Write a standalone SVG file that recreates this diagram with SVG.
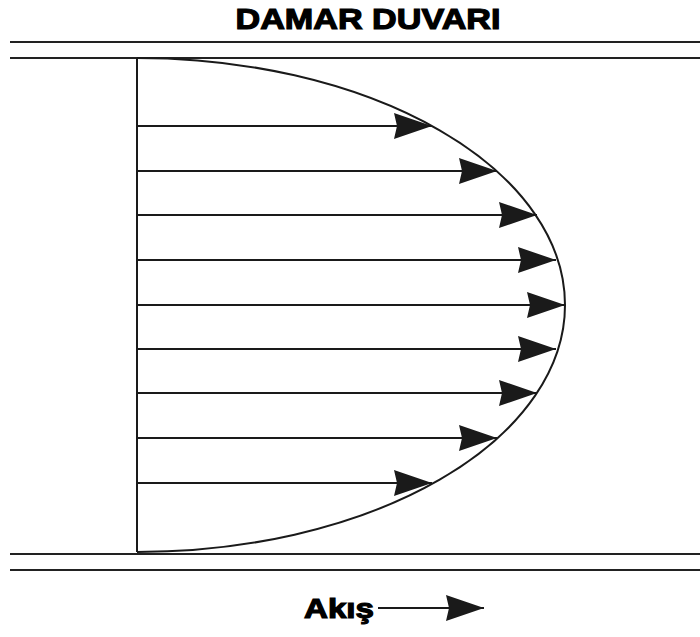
<svg xmlns="http://www.w3.org/2000/svg" width="700" height="637" viewBox="0 0 700 637">
<defs>
<style>
.wall{stroke:#222;stroke-width:2;fill:none}
.ln{stroke:#1a1a1a;stroke-width:2;fill:none}
.t{font-family:"Liberation Sans",Arial,sans-serif;font-weight:bold;fill:#000;stroke:#000;stroke-width:1.2}
</style>
<marker id="ah" viewBox="0 0 38 26" refX="38" refY="13" markerWidth="38" markerHeight="26" markerUnits="userSpaceOnUse" orient="auto">
<path d="M0,0 L38,13 L0,26 L3,13 Z" fill="#1a1a1a"/>
</marker>
</defs>
<rect width="700" height="637" fill="#fff"/>
<g id="title"><text class="t" x="368" y="29" font-size="30" text-anchor="middle" textLength="265" lengthAdjust="spacingAndGlyphs">DAMAR DUVARI</text></g>
<g id="walls">
<line class="wall" x1="10" y1="42" x2="700" y2="42"/>
<line class="wall" x1="10" y1="58" x2="700" y2="58"/>
<line class="wall" x1="10" y1="554" x2="700" y2="554"/>
<line class="wall" x1="10" y1="570" x2="700" y2="570"/>
</g>
<g id="profile">
<line class="ln" x1="137" y1="58" x2="137" y2="552"/>
<path class="ln" d="M137,58 A428,247 0 0 1 137,552"/>
</g>
<g id="connectors">
<line class="ln" x1="137" y1="126" x2="432" y2="126" marker-end="url(#ah)"/>
<line class="ln" x1="137" y1="171" x2="497" y2="171" marker-end="url(#ah)"/>
<line class="ln" x1="137" y1="215" x2="537" y2="215" marker-end="url(#ah)"/>
<line class="ln" x1="137" y1="260" x2="556" y2="260" marker-end="url(#ah)"/>
<line class="ln" x1="137" y1="305" x2="565" y2="305" marker-end="url(#ah)"/>
<line class="ln" x1="137" y1="349" x2="556" y2="349" marker-end="url(#ah)"/>
<line class="ln" x1="137" y1="393" x2="537" y2="393" marker-end="url(#ah)"/>
<line class="ln" x1="137" y1="438" x2="497" y2="438" marker-end="url(#ah)"/>
<line class="ln" x1="137" y1="483" x2="432" y2="483" marker-end="url(#ah)"/>
<line class="ln" x1="378" y1="608" x2="484" y2="608" marker-end="url(#ah)"/>
</g>
<g id="flow-label"><text class="t" x="304" y="618" font-size="28" textLength="70" lengthAdjust="spacingAndGlyphs">Akış</text></g>
</svg>
